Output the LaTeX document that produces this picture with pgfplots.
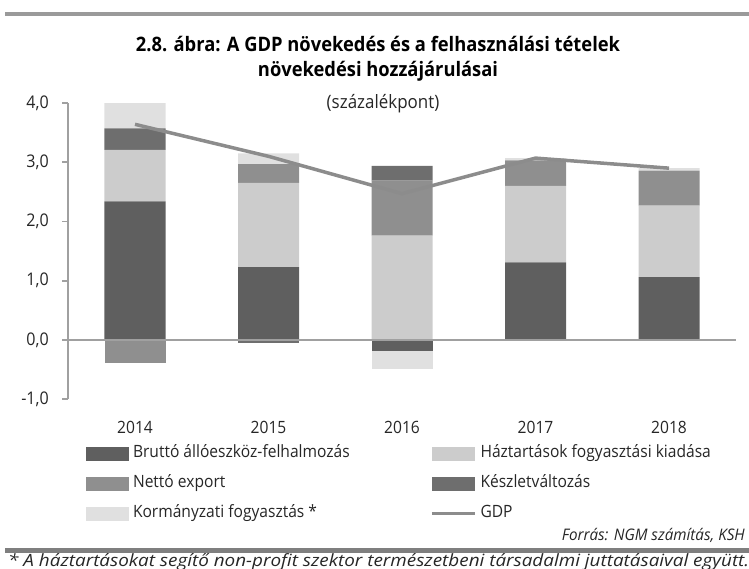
\documentclass[border=0pt]{standalone}
\usepackage{fontspec}
\setmainfont{Open Sans}[FakeStretch=0.92]
\usepackage{graphicx}
\usepackage{pgfplots}
\pgfplotsset{compat=1.18}
\definecolor{cBrutto}{HTML}{5F5F5F}
\definecolor{cHaz}{HTML}{CCCCCC}
\definecolor{cNetto}{HTML}{8F8F8F}
\definecolor{cKeszlet}{HTML}{6E6E6E}
\definecolor{cKorm}{HTML}{E0E0E0}
\definecolor{cGDP}{HTML}{8C8C8C}
\definecolor{cAxis}{HTML}{A0A0A0}
\definecolor{cTop}{HTML}{9A9A9A}
\definecolor{cBot}{HTML}{7F7F7F}
\definecolor{cText}{HTML}{262626}
\newcommand{\lf}{\fontsize{17}{20}\selectfont}
\pgfplotsset{
  barleg/.style={legend image code/.code={\fill[##1,draw=none] (0bp,-7bp) rectangle (43bp,7bp);}},
  lineleg/.style={legend image code/.code={\draw[##1] (0bp,0bp) -- (43bp,0bp);}},
  common/.style={scale only axis, width=667.5bp, height=296.25bp,
    at={(68.25bp,169.75bp)}, anchor=south west,
    xmin=-0.5, xmax=4.5, ymin=-1, ymax=4},
}
\begin{document}
\begin{tikzpicture}
\useasboundingbox (0,0) rectangle (749bp,569bp);
\clip (0,0) rectangle (749bp,569bp);
\fill[cTop] (5bp,553bp) rectangle (749bp,557bp);
\fill[cBot] (5bp,16bp) rectangle (749bp,21bp);
\node[font=\fontsize{20}{25}\selectfont\bfseries, align=center, text=black] at (378bp,510bp)
  {2.8. ábra: A GDP növekedés és a felhasználási tételek\\növekedési hozzájárulásai};
\node[font=\fontsize{18.5}{21}\selectfont, text=cText] at (383bp,465bp) {(százalékpont)};
\node[font=\fontsize{16}{18}\selectfont\itshape, anchor=east, text=cText, inner sep=0pt] at (745bp,34bp)
  {\resizebox{183bp}{\height}{Forrás: NGM számítás, KSH}};
\node[font=\fontsize{17}{20}\selectfont\itshape, anchor=base west, text=cText, inner sep=0pt] at (8bp,2bp)
  {\resizebox{741bp}{\height}{* A háztartásokat segítő non-profit szektor természetbeni társadalmi juttatásaival együtt.}};

\begin{axis}[common,
  axis lines*=left,
  x axis line style={draw=none},
  y axis line style={draw=cAxis, line width=1.6bp},
  xtick={0,1,2,3,4}, xticklabels={2014,2015,2016,2017,2018},
  xtick style={draw=none},
  ytick={-1,0,1,2,3,4},
  ytick style={draw=cAxis, line width=1.6bp},
  tick align=outside, major tick length=6bp,
  /pgf/number format/assume math mode=true,
  yticklabel style={/pgf/number format/fixed, /pgf/number format/fixed zerofill,
    /pgf/number format/precision=1, /pgf/number format/use comma, xshift=-10bp,
    font=\fontsize{17.5}{20}\selectfont},
  ticklabel style={font=\lf, text=cText},
  xticklabel style={yshift=-12bp},
  ybar stacked, bar width=61bp,
  legend columns=2, legend cell align=left,
  legend style={at={(0.0266,-0.160)}, anchor=north west, draw=none, fill=none,
    inner sep=0pt, outer sep=0pt, font=\lf, text=cText, row sep=16bp,
    nodes={inner sep=0pt, text height=11bp, text depth=3bp},
    /tikz/every even column/.append style={column sep=0pt}},
]
\addplot[fill=cBrutto, draw=none, barleg] coordinates {(0,2.34) (1,1.23) (2,0) (3,1.31) (4,1.06)};
\addlegendentry{\hspace{4bp}\makebox[297bp][l]{Bruttó állóeszköz-felhalmozás}}
\addplot[fill=cHaz, draw=none, barleg] coordinates {(0,0.87) (1,1.42) (2,1.76) (3,1.29) (4,1.21)};
\addlegendentry{\hspace{4bp}Háztartások fogyasztási kiadása}
\addplot[fill=cNetto, draw=none, barleg] coordinates {(0,0) (1,0.32) (2,0.93) (3,0.43) (4,0.59)};
\addlegendentry{\hspace{4bp}\makebox[297bp][l]{Nettó export}}
\addplot[fill=cKeszlet, draw=none, barleg] coordinates {(0,0.36) (1,0) (2,0.25) (3,0) (4,0)};
\addlegendentry{\hspace{4bp}Készletváltozás}
\addplot[fill=cKorm, draw=none, barleg] coordinates {(0,0.43) (1,0.18) (2,0) (3,0.04) (4,0.04)};
\addlegendentry{\hspace{4bp}\makebox[297bp][l]{Kormányzati fogyasztás *}}
\addlegendimage{lineleg, cGDP, line width=3.5bp}
\addlegendentry{\hspace{4bp}GDP}
\end{axis}

\begin{axis}[common, hide axis, ybar stacked, bar width=61bp]
\addplot[fill=cBrutto, draw=none] coordinates {(0,0) (1,0) (2,-0.18) (3,0) (4,0)};
\addplot[fill=cNetto, draw=none] coordinates {(0,-0.38) (1,0) (2,0) (3,0) (4,0)};
\addplot[fill=cKeszlet, draw=none] coordinates {(0,0) (1,-0.05) (2,0) (3,0) (4,0)};
\addplot[fill=cKorm, draw=none] coordinates {(0,0) (1,0) (2,-0.31) (3,0) (4,0)};
\end{axis}

\begin{axis}[common, hide axis]
\draw[cAxis, line width=1.6bp] (axis cs:-0.5,0) -- (axis cs:4.5,0);
\addplot[cGDP, line width=3.5bp, mark=none] coordinates {(0,3.64) (1,3.1) (2,2.47) (3,3.07) (4,2.9)};
\end{axis}
\end{tikzpicture}
\end{document}
